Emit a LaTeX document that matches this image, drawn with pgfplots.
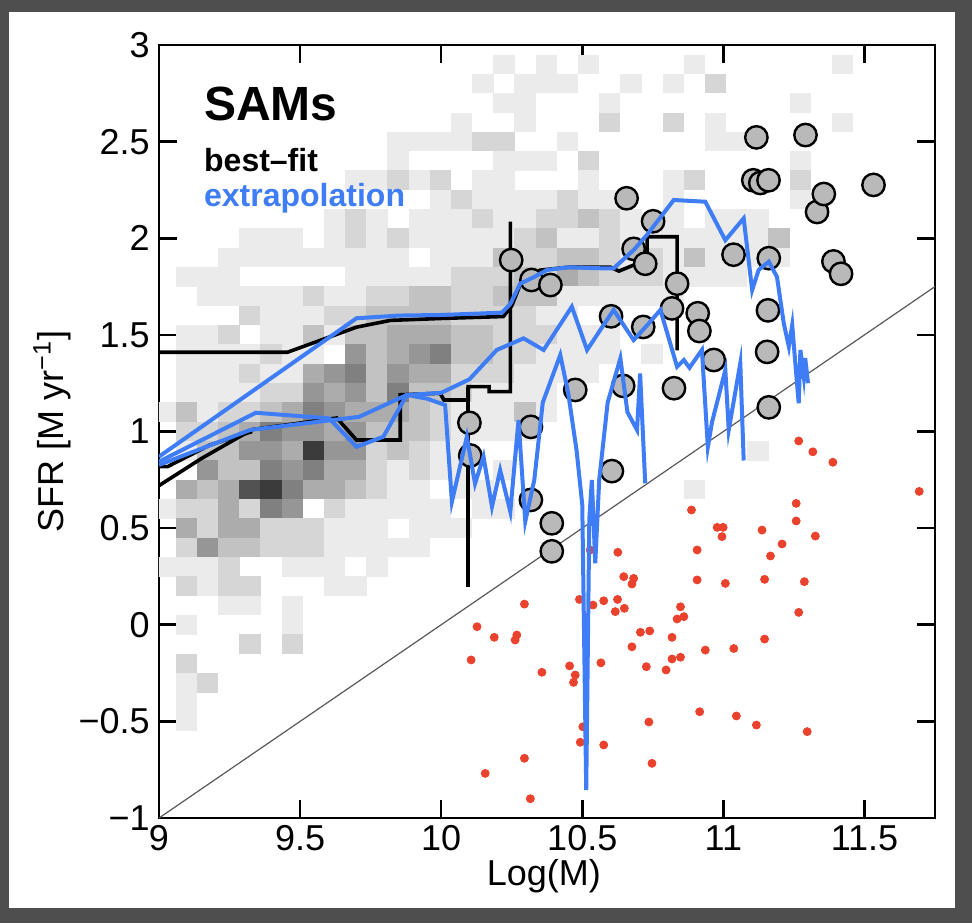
\documentclass[border=0pt]{standalone}
\usepackage{pgfplots}
\usepackage{pgfplotstable}
\usepackage{fontspec}
\setmainfont{Liberation Sans}
\pgfplotsset{compat=1.18}
\definecolor{sblue}{RGB}{62,125,245}
\definecolor{sred}{RGB}{235,66,45}
\definecolor{bgdark}{RGB}{78,78,78}
\pgfdeclareplotmark{cell}{\pgfpathrectangle{\pgfpoint{-5.35pt}{-4.9pt}}{\pgfpoint{10.7pt}{9.8pt}}\pgfusepathqfill}

\pgfplotstableread{
x y c
10.2225 2.9 1
10.3725 2.9 1
10.5225 2.9 1
10.8975 2.9 1
11.4225 2.9 1
10.1475 2.8 1
10.2975 2.8 1
10.3725 2.8 1
10.4475 2.8 1
10.6725 2.8 1
10.8225 2.8 1
10.9725 2.8 2
10.2225 2.7 1
10.2975 2.7 1
10.5975 2.7 1
11.2725 2.7 1
10.0725 2.6 1
10.2975 2.6 1
10.5975 2.6 2
10.8225 2.6 2
10.9725 2.6 1
11.4225 2.6 1
9.8475 2.5 1
9.9225 2.5 1
9.9975 2.5 1
10.0725 2.5 1
10.1475 2.5 2
10.2225 2.5 2
10.4475 2.5 1
10.9725 2.5 1
11.0475 2.5 1
9.8475 2.4 1
10.2225 2.4 1
10.2975 2.4 1
10.3725 2.4 1
10.5225 2.4 2
11.2725 2.4 1
9.6975 2.3 1
9.7725 2.3 1
9.8475 2.3 2
9.9225 2.3 1
9.9975 2.3 2
10.1475 2.3 1
10.2225 2.3 1
10.5225 2.3 1
10.8225 2.3 1
10.8975 2.3 2
11.2725 2.3 2
9.9975 2.2 1
10.0725 2.2 2
10.1475 2.2 1
10.2225 2.2 1
10.2975 2.2 1
10.3725 2.2 1
10.4475 2.2 2
10.5225 2.2 1
10.5975 2.2 1
10.8225 2.2 1
11.2725 2.2 1
9.6225 2.1 1
9.6975 2.1 2
9.7725 2.1 1
9.9225 2.1 1
9.9975 2.1 1
10.0725 2.1 1
10.1475 2.1 2
10.2225 2.1 1
10.2975 2.1 1
10.3725 2.1 2
10.4475 2.1 2
10.5225 2.1 3
10.5975 2.1 2
10.6725 2.1 1
10.8225 2.1 1
10.9725 2.1 1
11.0475 2.1 1
11.1225 2.1 1
9.3225 2.0 1
9.3975 2.0 1
9.4725 2.0 1
9.6225 2.0 1
9.6975 2.0 2
9.7725 2.0 1
9.8475 2.0 2
9.9225 2.0 1
9.9975 2.0 1
10.0725 2.0 1
10.1475 2.0 1
10.2225 2.0 1
10.2975 2.0 2
10.3725 2.0 3
10.4475 2.0 1
10.5225 2.0 1
10.5975 2.0 2
10.6725 2.0 1
10.7475 2.0 1
10.8225 2.0 1
10.8975 2.0 1
10.9725 2.0 1
11.0475 2.0 1
11.1225 2.0 1
11.1975 2.0 3
9.2475 1.9 1
9.3225 1.9 1
9.3975 1.9 1
9.4725 1.9 1
9.5475 1.9 1
9.6225 1.9 1
9.6975 1.9 1
9.7725 1.9 1
9.8475 1.9 1
9.9975 1.9 1
10.0725 1.9 1
10.1475 1.9 1
10.2225 1.9 3
10.2975 1.9 2
10.3725 1.9 2
10.4475 1.9 3
10.5225 1.9 3
10.5975 1.9 2
10.6725 1.9 1
10.7475 1.9 2
10.8225 1.9 1
10.8975 1.9 3
10.9725 1.9 1
11.0475 1.9 1
11.1225 1.9 1
11.1975 1.9 1
9.0975 1.8 1
9.1725 1.8 1
9.2475 1.8 1
9.6975 1.8 1
9.7725 1.8 1
9.8475 1.8 1
9.9225 1.8 1
9.9975 1.8 1
10.0725 1.8 2
10.1475 1.8 2
10.2225 1.8 2
10.2975 1.8 3
10.3725 1.8 2
10.4475 1.8 4
10.5225 1.8 3
10.5975 1.8 2
10.6725 1.8 2
10.7475 1.8 2
10.8225 1.8 1
10.8975 1.8 1
10.9725 1.8 1
11.0475 1.8 1
9.1725 1.7 1
9.2475 1.7 1
9.3225 1.7 1
9.3975 1.7 1
9.4725 1.7 1
9.5475 1.7 2
9.6225 1.7 1
9.6975 1.7 1
9.7725 1.7 2
9.8475 1.7 2
9.9225 1.7 3
9.9975 1.7 3
10.0725 1.7 2
10.1475 1.7 2
10.2225 1.7 3
10.2975 1.7 3
10.3725 1.7 3
10.4475 1.7 1
10.5225 1.7 1
10.5975 1.7 1
10.6725 1.7 1
10.7475 1.7 1
10.8225 1.7 1
9.3225 1.6 2
9.3975 1.6 1
9.4725 1.6 1
9.5475 1.6 1
9.6225 1.6 2
9.6975 1.6 2
9.7725 1.6 3
9.8475 1.6 3
9.9225 1.6 3
9.9975 1.6 3
10.0725 1.6 2
10.1475 1.6 2
10.2225 1.6 2
10.2975 1.6 2
10.3725 1.6 1
10.4475 1.6 1
9.0975 1.5 1
9.1725 1.5 1
9.2475 1.5 2
9.3975 1.5 1
9.4725 1.5 1
9.5475 1.5 3
9.6225 1.5 1
9.6975 1.5 3
9.7725 1.5 3
9.8475 1.5 4
9.9225 1.5 4
9.9975 1.5 4
10.0725 1.5 3
10.1475 1.5 3
10.2225 1.5 2
10.2975 1.5 2
10.3725 1.5 2
10.4475 1.5 1
10.5225 1.5 1
10.5975 1.5 1
9.0975 1.4 1
9.1725 1.4 1
9.2475 1.4 1
9.3225 1.4 1
9.3975 1.4 2
9.4725 1.4 1
9.5475 1.4 1
9.6975 1.4 5
9.7725 1.4 3
9.8475 1.4 4
9.9225 1.4 5
9.9975 1.4 6
10.0725 1.4 3
10.1475 1.4 3
10.2225 1.4 2
10.2975 1.4 2
10.3725 1.4 1
10.4475 1.4 1
10.5225 1.4 1
10.5975 1.4 1
10.7475 1.4 1
9.0975 1.3 1
9.1725 1.3 1
9.2475 1.3 1
9.3225 1.3 2
9.3975 1.3 1
9.4725 1.3 1
9.5475 1.3 4
9.6225 1.3 5
9.6975 1.3 6
9.7725 1.3 3
9.8475 1.3 5
9.9225 1.3 4
9.9975 1.3 4
10.0725 1.3 2
10.1475 1.3 2
10.2225 1.3 2
10.2975 1.3 1
10.3725 1.3 1
10.4475 1.3 1
10.5225 1.3 1
9.0975 1.2 1
9.1725 1.2 1
9.2475 1.2 1
9.3225 1.2 1
9.3975 1.2 2
9.4725 1.2 2
9.5475 1.2 5
9.6225 1.2 4
9.6975 1.2 5
9.7725 1.2 3
9.8475 1.2 6
9.9225 1.2 3
9.9975 1.2 3
10.0725 1.2 2
10.1475 1.2 1
10.2225 1.2 1
10.2975 1.2 1
10.3725 1.2 1
9.0225 1.1 1
9.0975 1.1 3
9.1725 1.1 1
9.2475 1.1 2
9.3225 1.1 2
9.3975 1.1 3
9.4725 1.1 4
9.5475 1.1 6
9.6225 1.1 5
9.6975 1.1 4
9.7725 1.1 4
9.8475 1.1 4
9.9225 1.1 3
9.9975 1.1 2
10.0725 1.1 1
10.1475 1.1 1
10.2225 1.1 1
10.2975 1.1 3
10.3725 1.1 1
9.0975 1.0 2
9.1725 1.0 2
9.2475 1.0 3
9.3225 1.0 4
9.3975 1.0 6
9.4725 1.0 5
9.5475 1.0 5
9.6225 1.0 4
9.6975 1.0 5
9.7725 1.0 3
9.8475 1.0 3
9.9225 1.0 3
9.9975 1.0 2
10.0725 1.0 1
10.1475 1.0 1
10.2225 1.0 1
10.2975 1.0 1
9.0975 0.9 1
9.1725 0.9 3
9.2475 0.9 3
9.3225 0.9 5
9.3975 0.9 5
9.4725 0.9 4
9.5475 0.9 9
9.6225 0.9 5
9.6975 0.9 5
9.7725 0.9 2
9.8475 0.9 3
9.9225 0.9 2
9.9975 0.9 1
10.0725 0.9 1
11.1225 0.9 1
9.1725 0.8 5
9.2475 0.8 3
9.3225 0.8 3
9.3975 0.8 6
9.4725 0.8 5
9.5475 0.8 6
9.6225 0.8 4
9.6975 0.8 4
9.7725 0.8 2
9.8475 0.8 1
9.9225 0.8 2
9.9975 0.8 1
10.0725 0.8 1
10.2225 0.8 1
9.0975 0.7 4
9.1725 0.7 3
9.2475 0.7 4
9.3225 0.7 8
9.3975 0.7 9
9.4725 0.7 6
9.5475 0.7 4
9.6225 0.7 4
9.6975 0.7 3
9.7725 0.7 2
9.8475 0.7 1
9.9225 0.7 1
10.0725 0.7 1
10.1475 0.7 1
10.8975 0.7 1
9.0225 0.6 1
9.0975 0.6 2
9.1725 0.6 2
9.2475 0.6 4
9.3225 0.6 2
9.3975 0.6 6
9.4725 0.6 5
9.6225 0.6 2
9.6975 0.6 1
9.7725 0.6 1
9.8475 0.6 1
9.9225 0.6 1
9.9975 0.6 1
10.1475 0.6 1
10.2225 0.6 1
9.0975 0.5 4
9.1725 0.5 2
9.2475 0.5 4
9.3225 0.5 4
9.3975 0.5 2
9.4725 0.5 2
9.5475 0.5 2
9.6225 0.5 1
9.6975 0.5 1
9.7725 0.5 1
9.9225 0.5 1
9.9975 0.5 1
10.0725 0.5 1
9.0975 0.4 2
9.1725 0.4 5
9.2475 0.4 3
9.3225 0.4 3
9.3975 0.4 2
9.4725 0.4 2
9.5475 0.4 2
9.6225 0.4 1
9.6975 0.4 1
9.7725 0.4 1
9.8475 0.4 1
9.9225 0.4 1
9.0225 0.3 1
9.0975 0.3 1
9.1725 0.3 1
9.2475 0.3 2
9.4725 0.3 1
9.5475 0.3 1
9.6225 0.3 1
9.7725 0.3 1
9.0975 0.2 2
9.1725 0.2 1
9.2475 0.2 2
9.3225 0.2 2
9.6225 0.2 1
9.6975 0.2 1
9.2475 0.1 1
9.3225 0.1 1
9.4725 0.1 1
9.0975 0.0 1
9.4725 0.0 1
9.3225 -0.1 2
9.4725 -0.1 2
9.0975 -0.2 2
9.0975 -0.3 1
9.1725 -0.3 2
9.0975 -0.4 1
9.0975 -0.5 1
}\cells

\pgfplotstableread{
x y
10.248 1.887
10.320 1.784
10.387 1.758
10.100 1.045
10.103 0.876
10.318 1.024
10.318 0.646
10.392 0.525
10.392 0.380
10.475 1.215
10.602 1.596
10.645 1.236
10.605 0.795
10.657 2.207
10.682 1.945
10.723 1.868
10.751 2.088
10.716 1.541
10.836 1.765
10.818 1.637
10.825 1.224
10.909 1.612
10.915 1.520
10.966 1.370
11.036 1.915
11.117 2.522
11.106 2.300
11.131 2.286
11.160 2.300
11.161 1.897
11.158 1.627
11.155 1.412
11.161 1.125
11.291 2.534
11.332 2.136
11.356 2.229
11.390 1.880
11.417 1.816
11.532 2.276
}\circles

\pgfplotstableread{
x y
11.267 0.951
11.317 0.895
11.388 0.841
11.258 0.628
11.258 0.537
11.326 0.459
11.208 0.418
11.167 0.356
11.137 0.490
10.887 0.594
10.978 0.504
10.999 0.504
10.995 0.456
10.907 0.387
10.626 0.375
10.528 0.387
10.907 0.232
11.007 0.214
11.146 0.235
11.287 0.223
10.647 0.249
10.682 0.240
10.676 0.211
10.490 0.131
10.538 0.102
10.576 0.124
10.625 0.131
10.617 0.068
10.649 0.085
10.295 0.107
10.848 0.093
10.836 0.030
10.860 0.042
11.267 0.064
10.127 -0.010
10.188 -0.065
10.268 -0.053
10.262 -0.079
10.706 -0.039
10.739 -0.032
10.818 -0.065
11.146 -0.074
10.676 -0.114
10.106 -0.182
10.357 -0.246
10.455 -0.213
10.475 -0.260
10.469 -0.298
10.566 -0.197
10.727 -0.217
10.797 -0.234
10.818 -0.177
10.848 -0.168
10.936 -0.131
11.037 -0.123
10.916 -0.450
11.046 -0.472
11.117 -0.519
11.297 -0.553
10.736 -0.503
10.502 -0.528
10.493 -0.608
10.576 -0.622
10.295 -0.691
10.747 -0.717
10.156 -0.769
10.316 -0.900
11.694 0.690
}\reddots

\begin{document}
\begin{tikzpicture}
\fill[bgdark] (-79.5pt,-52.5pt) rectangle (406.5pt,409pt);
\fill[white] (-75pt,-45pt) rectangle (398pt,403pt);
\begin{axis}[
  scale only axis,
  width=388pt, height=386.5pt,
  xmin=9, xmax=11.75, ymin=-1, ymax=3,
  axis line style={line width=1.3pt},
  major tick style={line width=1.3pt, black},
  major tick length=9pt,
  tick align=inside,
  xtick={9,9.5,10,10.5,11,11.5},
  xticklabels={9,9.5,10,10.5,11,11.5},
  ytick={-1,-0.5,0,0.5,1,1.5,2,2.5,3},
  yticklabels={−1,−0.5,0,0.5,1,1.5,2,2.5,3},
  ticklabel style={font=\fontsize{18}{20}\selectfont},
  xticklabel style={inner sep=0pt, yshift=-3.5pt},
  yticklabel style={inner sep=0pt, xshift=-4.5pt},
  every axis x label/.style={at={(axis description cs:0.496,-0.075)}, anchor=center},
  every axis y label/.style={at={(axis description cs:-0.138,0.5)}, anchor=center, rotate=90},
  label style={font=\fontsize{18}{20}\selectfont},
  xlabel={Log(M)},
  ylabel={SFR [M yr\textsuperscript{−1}]},
  clip marker paths=true,
  colormap={heat}{gray(0cm)=(1); gray(1cm)=(0.92); gray(3cm)=(0.76); gray(6cm)=(0.50); gray(10cm)=(0.14)},
  point meta min=0, point meta max=10,
]
% 2D histogram
\addplot[scatter, only marks, mark=cell, point meta=explicit,
  scatter/use mapped color={draw=none, fill=mapped color}]
  table[x=x, y=y, meta=c] {\cells};
% one-to-one line
\addplot[black!65, line width=0.6pt] coordinates {(9,-1) (11.75,1.75)};
% red points
\addplot[only marks, mark=*, mark size=2pt, color=sred, mark options={fill=sred, draw=none}] table[x=x,y=y] {\reddots};
% best-fit (black)
\addplot[black, line width=1.8pt] coordinates {
(9,1.41) (9.455,1.41) (9.70,1.54) (9.82,1.575) (10.0,1.585) (10.22,1.595) (10.25,1.65) (10.28,1.76) (10.35,1.835) (10.45,1.85) (10.6,1.85) (10.63,1.83) (10.68,1.86) (10.73,1.87) (10.73,2.008) (10.836,2.008) (10.836,1.42)};
\addplot[black, line width=1.8pt] coordinates {
(9.0,0.72) (9.15,0.86) (9.33,1.01) (9.63,1.07) (9.70,0.956) (9.855,0.956) (9.855,1.19) (9.996,1.198) (10.01,1.163) (10.096,1.163) (10.096,1.232) (10.17,1.232) (10.17,1.206) (10.245,1.206) (10.245,2.086)};
\addplot[black, line width=1.8pt] coordinates {(9.0,0.818) (9.03,0.818) (9.18,0.93) (9.33,1.0)};
\addplot[black, line width=1.8pt] coordinates {(10.096,0.197) (10.096,1.232)};
% data circles
\addplot[only marks, mark=*, mark size=5.6pt, mark options={fill=gray!55, draw=black, line width=1.2pt}] table[x=x,y=y] {\circles};
% extrapolation (blue)
\addplot[sblue, line width=2pt] coordinates {
(9.0,0.87) (9.70,1.586) (9.85,1.60) (10.0,1.603) (10.215,1.615) (10.245,1.66) (10.28,1.765) (10.33,1.80) (10.375,1.836) (10.45,1.85) (10.55,1.845) (10.611,1.844) (10.682,1.939) (10.729,2.017) (10.788,2.129) (10.824,2.198) (10.936,2.189) (11.007,1.99) (11.072,2.103) (11.102,1.732) (11.125,1.836) (11.161,1.879) (11.19,1.80) (11.214,1.56) (11.232,1.439) (11.244,1.551) (11.255,1.353) (11.267,1.146) (11.273,1.422) (11.285,1.284) (11.29,1.38) (11.3,1.25)};
\addplot[sblue, line width=2pt] coordinates {
(9.0,0.844) (9.343,1.097) (9.603,1.068) (9.70,0.921) (9.795,0.973) (9.878,1.189) (9.95,1.17) (10.014,1.137) (10.038,0.637) (10.091,0.973) (10.12,0.73) (10.15,0.87) (10.18,0.611) (10.209,0.80) (10.245,0.585) (10.274,1.059) (10.298,0.535) (10.33,0.75) (10.36,1.15) (10.422,1.396) (10.45,1.2) (10.48,0.9) (10.50,0.62) (10.514,-0.855) (10.525,0.55) (10.534,0.749) (10.546,0.318) (10.56,0.75) (10.59,1.15) (10.635,1.379) (10.66,1.1) (10.694,1.008) (10.705,1.3) (10.723,0.732)};
\addplot[sblue, line width=2pt] coordinates {
(9.0,0.827) (9.323,1.008) (9.709,1.076) (9.878,1.189) (10.0,1.2) (10.1,1.27) (10.197,1.422) (10.292,1.482) (10.363,1.422) (10.463,1.646) (10.517,1.422) (10.611,1.629) (10.682,1.473) (10.73,1.55) (10.777,1.629) (10.836,1.335) (10.86,1.37) (10.88,1.33) (10.924,1.422) (10.945,0.92) (10.96,1.05) (11.007,1.318) (11.019,1.008) (11.06,1.353) (11.072,0.85)};
% annotations
\node[anchor=base west, font=\fontsize{24}{28}\selectfont\bfseries] at (axis cs:9.135,2.607) {SAMs};
\node[anchor=base west, font=\fontsize{16}{19}\selectfont\bfseries] at (axis cs:9.135,2.343) {best–fit};
\node[anchor=base west, font=\fontsize{16}{19}\selectfont\bfseries, text=sblue] at (axis cs:9.135,2.162) {extrapolation};
\end{axis}
\end{tikzpicture}
\end{document}
